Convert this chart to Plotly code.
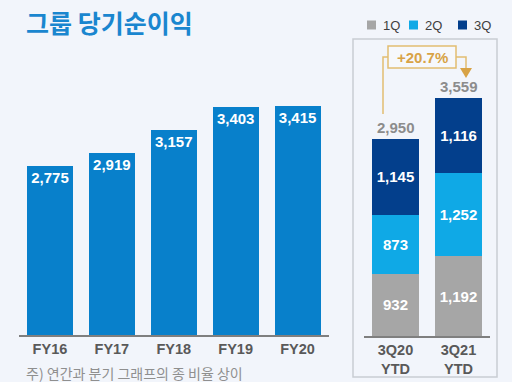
import plotly.graph_objects as go

# ---- data ----
years = ["FY16", "FY17", "FY18", "FY19", "FY20"]
annual = [2775, 2919, 3157, 3403, 3415]
periods = ["3Q20<br>YTD", "3Q21<br>YTD"]
q1 = [932, 1192]
q2 = [873, 1252]
q3 = [1145, 1116]
totals = [2950, 3559]
quarter_names = ["1Q", "2Q", "3Q"]
growth_label = "+20.7%"
title_text = "그룹 당기순이익"
note_text = "주) 연간과 분기 그래프의 종 비율 상이"

# ---- style ----
W, H = 512, 382
BG = "#f2f5fb"
C_ANNUAL = "#0880cb"
C_Q = ["#a6a6a6", "#0fa9e6", "#033f8c"]
GOLD = "#d8a346"
GOLD_LINE = "#e2bd72"
NUM_FONT = "Liberation Sans"
KR_FONT = "Noto Sans CJK KR"


def px(x):
    return x / W


def py(y):
    return 1 - y / H


fig = go.Figure()

fig.add_trace(go.Bar(
    x=years, y=annual, xaxis="x", yaxis="y",
    marker=dict(color=C_ANNUAL, line=dict(width=0)),
    texttemplate="%{y:,}", textposition="inside", insidetextanchor="end",
    constraintext="none",
    textfont=dict(family=NUM_FONT, size=15, color="white", weight="bold"),
    showlegend=False, hoverinfo="skip",
))

for name, vals, col in zip(quarter_names, [q1, q2, q3], C_Q):
    fig.add_trace(go.Bar(
        x=periods, y=vals, xaxis="x2", yaxis="y2", name=name,
        marker=dict(color=col, line=dict(width=0)),
        texttemplate="%{y:,}", textposition="inside", insidetextanchor="middle",
        constraintext="none",
        textfont=dict(family=NUM_FONT, size=15, color="white", weight="bold"),
        showlegend=False, hoverinfo="skip",
    ))

annotations = []
for p, t in zip(periods, totals):
    annotations.append(dict(
        x=p, y=t, xref="x2", yref="y2", text=f"{t:,}", showarrow=False,
        yanchor="bottom", yshift=1,
        font=dict(family=NUM_FONT, size=15, color="#8c8c8c", weight="bold"),
    ))

# title & note
annotations.append(dict(
    x=px(24), y=py(22), xref="paper", yref="paper", xanchor="left", yanchor="middle",
    text=title_text, showarrow=False,
    font=dict(family=KR_FONT, size=25, color="#1a86cf", weight="bold"),
))
annotations.append(dict(
    x=px(24), y=py(373), xref="paper", yref="paper", xanchor="left", yanchor="middle",
    text=note_text, showarrow=False,
    font=dict(family=KR_FONT, size=14, color="#8f8f8f"),
))

# legend (squares + labels)
shapes = []
leg_x = [367, 409, 458]
for lx, name, col in zip(leg_x, quarter_names, C_Q):
    shapes.append(dict(type="rect", xref="paper", yref="paper",
                       x0=px(lx), x1=px(lx + 9), y0=py(29.5), y1=py(20.5),
                       fillcolor=col, line=dict(width=0)))
    annotations.append(dict(
        x=px(lx + 14), y=py(25), xref="paper", yref="paper", xanchor="left", yanchor="middle",
        text=name, showarrow=False,
        font=dict(family=NUM_FONT, size=13, color="#404040"),
    ))

# panel box
shapes.append(dict(type="rect", xref="paper", yref="paper",
                   x0=px(353), x1=px(497), y0=py(377), y1=py(39),
                   line=dict(color="#c9cdd3", width=1.5), fillcolor="rgba(0,0,0,0)"))

# growth callout
shapes.append(dict(type="rect", xref="paper", yref="paper",
                   x0=px(388), x1=px(456), y0=py(68), y1=py(46),
                   line=dict(color=GOLD_LINE, width=1.5), fillcolor="rgba(255,255,255,0.3)"))
shapes.append(dict(type="path", xref="paper", yref="paper",
                   path=f"M{px(383)},{py(114)} L{px(383)},{py(57)} L{px(388)},{py(57)}",
                   line=dict(color=GOLD_LINE, width=1.5)))
shapes.append(dict(type="path", xref="paper", yref="paper",
                   path=f"M{px(456)},{py(57)} L{px(466)},{py(57)} L{px(466)},{py(69)}",
                   line=dict(color=GOLD_LINE, width=1.5)))
shapes.append(dict(type="path", xref="paper", yref="paper",
                   path=f"M{px(460)},{py(68)} L{px(472)},{py(68)} L{px(466)},{py(78)} Z",
                   fillcolor=GOLD, line=dict(color=GOLD, width=0)))
annotations.append(dict(
    x=px(422), y=py(57), xref="paper", yref="paper", xanchor="center", yanchor="middle",
    text=growth_label, showarrow=False,
    font=dict(family=NUM_FONT, size=15, color=GOLD, weight="bold"),
))

tickfont = dict(family=NUM_FONT, size=14.5, color="#595959", weight="bold")

fig.update_layout(
    width=W, height=H,
    margin=dict(l=0, r=0, t=0, b=0),
    paper_bgcolor=BG, plot_bgcolor="rgba(0,0,0,0)",
    barmode="stack",
    bargap=0.257,
    showlegend=False,
    xaxis=dict(domain=[px(19), px(328.5)], showline=True, linecolor="#7f7f7f", linewidth=1.5,
               ticks="", tickfont=tickfont, fixedrange=True),
    yaxis=dict(domain=[py(335), py(100)], range=[979, 3479], visible=False, showgrid=False),
    xaxis2=dict(domain=[px(364), px(490)], anchor="y2", showline=True, linecolor="#7f7f7f",
                linewidth=1.5, ticks="", tickfont=tickfont),
    yaxis2=dict(domain=[py(336), py(80)], range=[0, 3827], visible=False, showgrid=False,
                anchor="x2"),
    shapes=shapes,
    annotations=annotations,
)

fig.write_html("out.html", config={"displayModeBar": False},
               post_script="document.body.style.margin='0';document.body.style.overflow='hidden';")
